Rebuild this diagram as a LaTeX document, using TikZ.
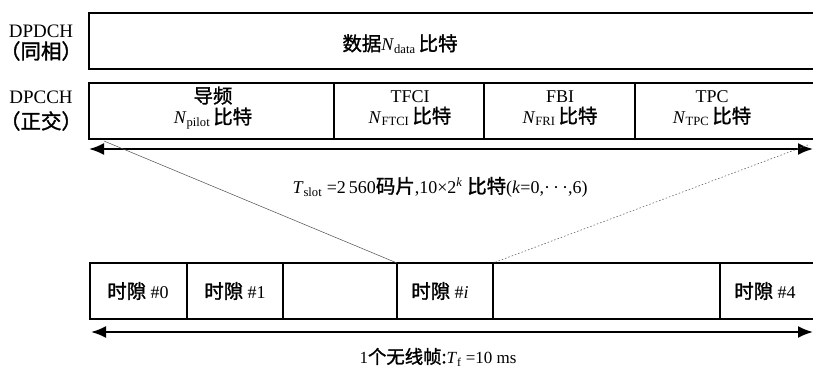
\documentclass[tikz,border=0pt]{standalone}
\usepackage{fontspec}
\setmainfont{Liberation Serif}
\newfontfamily\cjk{Noto Sans CJK SC}[FakeBold=1.5,Scale=1.08]
\newcommand\zh[1]{{\cjk #1}}
\newcommand\sbs[1]{\textsubscript{#1}}
\usetikzlibrary{arrows.meta}
\begin{document}
\begin{tikzpicture}[x=1pt,y=-1pt,
  frame/.style={line width=2.4pt, line join=miter},
  sep/.style={line width=2.2pt},
  span/.style={line width=2pt, {Latex[length=15pt,width=12pt]}-{Latex[length=15pt,width=12pt]}},
  guide/.style={line width=0.5pt, black!70},
  guidedot/.style={line width=0.6pt, black!60, dash pattern=on 1.5pt off 2pt},
  txt/.style={font=\fontsize{18}{21}\selectfont, inner sep=0pt, align=center},
  lbl/.style={font=\fontsize{19}{20}\selectfont, inner sep=0pt, align=center}]
\useasboundingbox (0,0) rectangle (813,373);
% labels
\node[lbl] (lab1a) at (41,31) {DPDCH};
\node[lbl] (lab1b) at (41,51) {\zh{（同相）}};
\node[lbl] (lab2a) at (41,97) {DPCCH};
\node[lbl] (lab2b) at (41,121) {\zh{（正交）}};
% DPDCH box
\draw[frame] (813,13) -- (89,13) -- (89,69) -- (813,69);
\node[txt] (data) at (400,44) {\zh{数据}\textit{N}\sbs{data}\,\zh{比特}};
% DPCCH box
\draw[frame] (813,83) -- (89,83) -- (89,139) -- (813,139);
\coordinate (d1t) at (334,83); \coordinate (d1b) at (334,139);
\coordinate (d2t) at (484,83); \coordinate (d2b) at (484,139);
\coordinate (d3t) at (635,83); \coordinate (d3b) at (635,139);
\draw[sep] (d1t) -- (d1b) (d2t) -- (d2b) (d3t) -- (d3b);
\node[txt] (pilot) at (213,108) {\zh{导频}\\[0pt]\textit{N}\sbs{pilot}\,\zh{比特}};
\node[txt] (tfci) at (410,108) {TFCI\\[0pt]\textit{N}\sbs{FTCI}\,\zh{比特}};
\node[txt] (fbi) at (560,108) {FBI\\[0pt]\textit{N}\sbs{FRI}\,\zh{比特}};
\node[txt] (tpc) at (712,108) {TPC\\[0pt]\textit{N}\sbs{TPC}\,\zh{比特}};
% slot span arrow
\coordinate (a1l) at (89,149); \coordinate (a1r) at (813,149);
\draw[span] (a1l) -- (a1r);
\node[txt] (tslot) at (440,187) {\textit{T}\sbs{slot} =2\,560\zh{码片},10×2\textsuperscript{\textit{k}} \zh{比特}(\textit{k}=0,·\,·\,·,6)};
% frame slots
\draw[frame] (813,263) -- (90,263) -- (90,319) -- (813,319);
\foreach \x/\n in {187/s1,283/s2,397/s3,493/s4,720/s5}{
  \coordinate (\n t) at (\x,263); \coordinate (\n b) at (\x,319);
  \draw[sep] (\n t) -- (\n b);
}
\node[txt] (slot0) at (138,291) {\zh{时隙} \#0};
\node[txt] (slot1) at (235,291) {\zh{时隙} \#1};
\node[txt] (sloti) at (440,291) {\zh{时隙} \#\textit{i}};
\node[txt] (slot4) at (765,291) {\zh{时隙} \#4};
% guide lines
\coordinate (g1) at (104,141); \coordinate (g2) at (808,145);
\draw[guide] (g1) -- (s3t);
\draw[guidedot] (g2) -- (s4t);
% frame span arrow
\coordinate (a2l) at (91,332); \coordinate (a2r) at (813,332);
\draw[span] (a2l) -- (a2r);
\node[txt, font=\fontsize{17}{19}\selectfont] (tf) at (438,357) {1\zh{个无线帧:}\textit{T}\sbs{f} =10 ms};
\end{tikzpicture}
\end{document}
